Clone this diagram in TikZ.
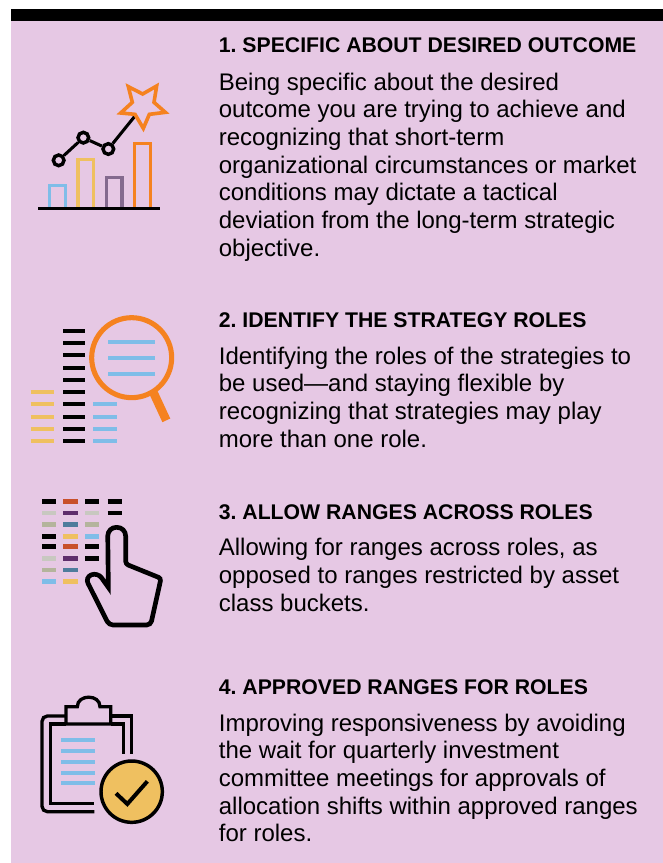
\documentclass[tikz,border=0pt]{standalone}
\usepackage{fontspec}
\setmainfont{Liberation Sans}
\definecolor{pinkbg}{HTML}{E6C8E4}
\definecolor{iblue}{HTML}{7FBDE8}
\definecolor{iyellow}{HTML}{EFC060}
\definecolor{ipurple}{HTML}{846A8E}
\definecolor{iorange}{HTML}{F58220}
\definecolor{rred}{HTML}{C8502A}
\definecolor{rplum}{HTML}{5E2D6B}
\definecolor{rgrey}{HTML}{C8C8C0}
\definecolor{rolive}{HTML}{B4B49C}
\definecolor{rteal}{HTML}{4E7C9C}
\tikzset{
  headtext/.style={anchor=base west,inner sep=0pt,font=\frenchspacing\fontsize{15.92pt}{18pt}\selectfont\bfseries},
  bodytext/.style={anchor=base west,inner sep=0pt,align=left,font=\frenchspacing\fontsize{18pt}{20.75pt}\selectfont},
  iconzoom/.style={x=0.25pt,y=-0.25pt},
  dotnode/.style={circle,draw=black,line width=2.6pt,fill=pinkbg,minimum size=8pt,inner sep=0pt},
  bar/.style={line width=2.3pt,line cap=butt,line join=miter},
  dash3/.style={line width=3.1pt},
  dash35/.style={line width=3.4pt},
  keyline/.style={line width=2.5pt,line cap=butt}
}
\begin{document}
\begin{tikzpicture}[x=0.75pt,y=-0.75pt]
\useasboundingbox (0,0) rectangle (663,863);
\fill[white] (0,0) rectangle (663,863);
\fill[pinkbg] (11,21) rectangle (663,863);
\fill[black] (11,9) rectangle (663,21);

% text
\node[headtext] (h1) at (218.6,53) {1. SPECIFIC ABOUT DESIRED OUTCOME};
\node[bodytext] (b1) at (218.6,256) {Being specific about the desired\\outcome you are trying to achieve and\\recognizing that short-term\\organizational circumstances or market\\conditions may dictate a tactical\\deviation from the long-term strategic\\objective.};
\node[headtext] (h2) at (218.6,327) {2. IDENTIFY THE STRATEGY ROLES};
\node[bodytext] (b2) at (218.6,447) {Identifying the roles of the strategies to\\be used—and staying flexible by\\recognizing that strategies may play\\more than one role.};
\node[headtext] (h3) at (218.6,519) {3. ALLOW RANGES ACROSS ROLES};
\node[bodytext] (b3) at (218.6,611.3) {Allowing for ranges across roles, as\\opposed to ranges restricted by asset\\class buckets.};
\node[headtext] (h4) at (218.6,694) {4. APPROVED RANGES FOR ROLES};
\node[bodytext] (b4) at (218.6,841.7) {Improving responsiveness by avoiding\\the wait for quarterly investment\\committee meetings for approvals of\\allocation shifts within approved ranges\\for roles.};

% icon 1
\begin{scope}[shift={(20,70)},iconzoom]
\draw[bar,iblue] (88,410) -- (88,347) -- (136,347) -- (136,410);
\draw[bar,iyellow] (174,410) -- (174,269) -- (221,269) -- (221,410);
\draw[bar,ipurple] (259,410) -- (259,322) -- (306,322) -- (306,410);
\draw[bar,iorange] (344,410) -- (344,221) -- (392,221) -- (392,410);
\draw[black,line width=2.6pt] (55,415) -- (420,415);
\coordinate (lineend) at (345,138);
\node[dotnode] (p1) at (116,271) {};
\node[dotnode] (p2) at (190,203) {};
\node[dotnode] (p3) at (265,237) {};
\draw[black,line width=2.3pt] (p1) -- (p2);
\draw[black,line width=2.3pt] (p2) -- (p3);
\draw[black,line width=2.3pt] (p3) -- (lineend);
\draw[iorange,line width=2.7pt,line join=miter] (325,50) -- (368,72) -- (410,48) -- (402,97) -- (436,127) -- (388,133) -- (370,175) -- (345,133) -- (302,129) -- (337,97) -- cycle;
\end{scope}

% icon 2
\begin{scope}[shift={(20,315)},iconzoom]
\foreach \yy in {47,84,121,158,195,232,268,305,342,379}
  \draw[black,dash3] (129,\yy) -- (194,\yy);
\foreach \yy in {232,268,305,342,379}
  \draw[iyellow,dash3] (32,\yy) -- (102,\yy);
\foreach \yy in {268,305,342,379}
  \draw[iblue,dash3] (220,\yy) -- (291,\yy);
\foreach \yy in {81,128,176}
  \draw[iblue,dash3] (264,\yy) -- (405,\yy);
\draw[iorange,line width=3.8pt] (335,128) circle [radius=120];
\draw[iorange,line width=6.5pt] (400,232) -- (439,316);
\end{scope}

% icon 3
\begin{scope}[shift={(30,490)},iconzoom]
\foreach \xa/\xb/\yy/\cc in {36/77/34/black,100/143/34/rred,166/208/34/black,233/275/34/black,
  36/77/69/rgrey,100/143/69/rplum,166/208/69/rgrey,233/275/69/black,
  36/77/104/rolive,100/143/104/rteal,166/208/104/rolive,
  36/77/139/black,100/143/139/iyellow,166/208/139/iblue,
  36/77/170/black,100/143/170/rred,166/208/170/black,
  36/77/205/rgrey,100/143/205/rplum,166/208/205/black,
  36/77/240/rolive,100/143/240/rteal,
  36/77/274/iblue,100/143/274/iyellow}
  \draw[\cc,dash35] (\xa,\yy) -- (\xb,\yy);
\draw[black,line width=3.5pt,line join=miter,rounded corners=6pt] (235,292) [rounded corners=6.5pt] -- (233,112) -- (287,112) [rounded corners=2pt] -- (287,222) -- (393,265) [rounded corners=3pt] -- (362,405) -- (237,405) [rounded corners=5pt] -- (165,262) -- (203,247) [sharp corners] -- (235,292) -- cycle;
\end{scope}

% icon 4
\begin{scope}[shift={(30,690)},iconzoom]
\foreach \yy in {151,183,215,248,280}
  \draw[iblue,dash3] (94,\yy) -- (194,\yy);
\draw[black,line width=2.5pt,rounded corners=4pt] (108,78) -- (36,78) -- (36,365) -- (193,365);
\draw[black,keyline] (242,78) -- (305,78) -- (305,193);
\draw[black,keyline] (108,102) -- (62,102) -- (62,340) -- (193,340);
\draw[black,keyline] (242,102) -- (280,102) -- (280,193);
\draw[black,keyline] (108,102) -- (108,50) -- (142,50) .. controls (142,12) and (210,12) .. (210,50) -- (242,50) -- (242,102) -- cycle;
\draw[black,fill=iyellow,line width=2.6pt] (305,305) circle [radius=92];
\draw[black,line width=3pt] (258,310) -- (292,342) -- (352,274);
\end{scope}
\end{tikzpicture}
\end{document}
